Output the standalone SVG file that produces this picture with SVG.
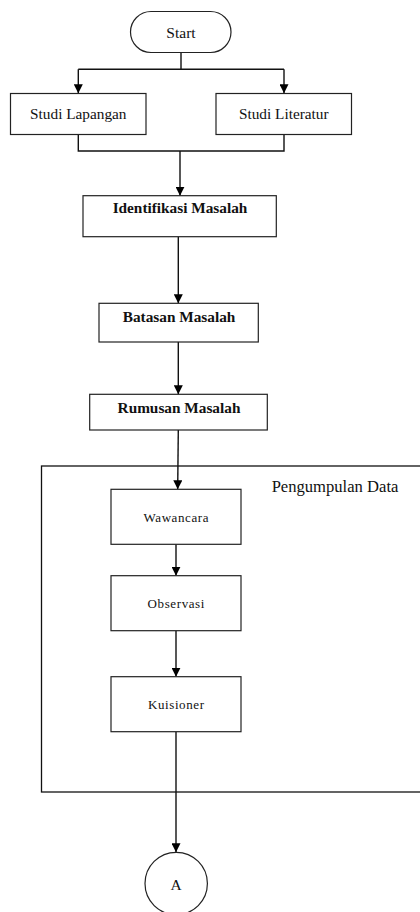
<svg xmlns="http://www.w3.org/2000/svg" width="420" height="912" viewBox="0 0 420 912">
<style>
.box{fill:#fff;stroke:#222;stroke-width:1.2}
.frame{fill:none;stroke:#111;stroke-width:1.3}
.t{font-family:"Liberation Serif","Times New Roman",serif;fill:#111;text-anchor:middle}
.r{font-size:15.3px}
.b{font-size:15.3px;font-weight:bold}
.s{font-size:13px;letter-spacing:0.6px}
.c{fill:none;stroke:#111;stroke-width:1.4}
</style>
<defs>
<marker id="ah" markerUnits="userSpaceOnUse" markerWidth="9" markerHeight="9" refX="9" refY="4.5" orient="auto" viewBox="0 0 9 9">
<path d="M0,0 L9,4.5 L0,9 z" fill="#000"/>
</marker>
</defs>
<rect width="420" height="912" fill="#fff"/>
<g id="pengumpulan-data">
<rect class="frame" x="41.5" y="466" width="400" height="326"/>
<text class="t" x="335" y="492" style="font-size:16.6px">Pengumpulan Data</text>
</g>
<g id="connectors">
<path class="c" d="M181,52.7 V69.3 M78.3,69.3 H284"/>
<path class="c" d="M78.3,69.3 V93.3" marker-end="url(#ah)"/>
<path class="c" d="M284,69.3 V93.3" marker-end="url(#ah)"/>
<path class="c" d="M78.3,134.3 V151 H284 V134.3"/>
<path class="c" d="M180,151 V195.7" marker-end="url(#ah)"/>
<path class="c" d="M178.3,236.7 V303.3" marker-end="url(#ah)"/>
<path class="c" d="M178.3,342 V394.3" marker-end="url(#ah)"/>
<path class="c" d="M178.3,430 L177.7,489.3" marker-end="url(#ah)"/>
<path class="c" d="M176,544.3 V575.7" marker-end="url(#ah)"/>
<path class="c" d="M176,630.7 V676.7" marker-end="url(#ah)"/>
<path class="c" d="M176,731.7 V852.3" marker-end="url(#ah)"/>
</g>
<g id="start">
<rect class="box" x="130.5" y="11.5" width="100.5" height="41" rx="20.5" ry="20.5"/>
<text class="t" x="181" y="37.5" style="font-size:15.5px">Start</text>
</g>
<g id="studi-lapangan">
<rect class="box" x="10.5" y="93.5" width="135.5" height="41"/>
<text class="t r" x="78.3" y="119.2">Studi Lapangan</text>
</g>
<g id="studi-literatur">
<rect class="box" x="216" y="93.5" width="135.5" height="41"/>
<text class="t r" x="283.8" y="119.2">Studi Literatur</text>
</g>
<g id="identifikasi-masalah">
<rect class="box" x="83" y="195.7" width="193.3" height="41"/>
<text class="t b" x="180" y="212.7">Identifikasi Masalah</text>
</g>
<g id="batasan-masalah">
<rect class="box" x="99" y="303.3" width="159.3" height="38.7"/>
<text class="t b" x="179" y="321.7">Batasan Masalah</text>
</g>
<g id="rumusan-masalah">
<rect class="box" x="89.7" y="394.3" width="177.6" height="35.7"/>
<text class="t b" x="179" y="412.7">Rumusan Masalah</text>
</g>
<g id="wawancara">
<rect class="box" x="111" y="489.3" width="130" height="55"/>
<text class="t s" x="176.3" y="521.5">Wawancara</text>
</g>
<g id="observasi">
<rect class="box" x="111" y="575.7" width="130" height="55"/>
<text class="t s" x="176.3" y="608">Observasi</text>
</g>
<g id="kuisioner">
<rect class="box" x="111" y="676.7" width="130" height="55"/>
<text class="t s" x="176.3" y="709">Kuisioner</text>
</g>
<g id="connector-a">
<circle class="box" cx="176.2" cy="883.5" r="31.2"/>
<text class="t" x="176.2" y="889.5" style="font-size:15.5px">A</text>
</g>
</svg>
